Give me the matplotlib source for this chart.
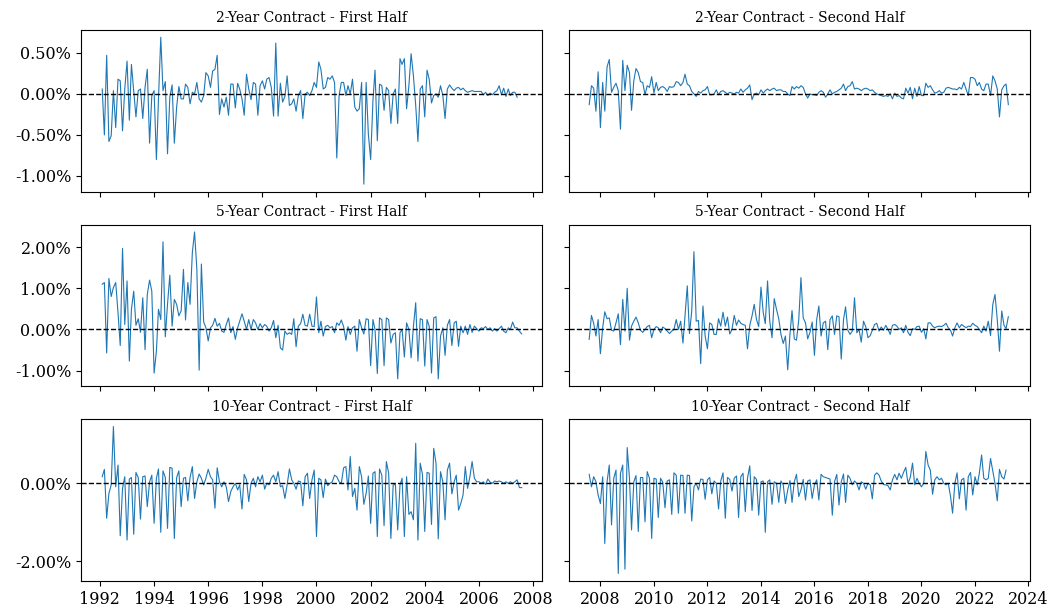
import pandas as pd
import matplotlib.pyplot as plt
import matplotlib.dates as mdates
from matplotlib.ticker import FuncFormatter

plt.rcParams['font.family'] = ['DejaVu Serif']

# monthly deviations, in percent
two_first = [
    0.06, -0.50, 0.47, -0.58, -0.51, 0.04, -0.41, 0.18, 0.16, -0.45, 0.06, 0.40, -0.32, 0.36, 0.04, -0.28,
    0.04, 0.06, -0.30, 0.08, 0.30, -0.60, -0.02, 0.04, -0.80, -0.06, 0.69, 0.04, 0.15, -0.73, -0.04, 0.11,
    -0.60, -0.16, 0.09, -0.06, -0.06, 0.12, 0.08, -0.12, 0.02, 0.00, 0.14, -0.06, -0.10, -0.02, 0.26, 0.22,
    0.08, 0.28, 0.30, 0.47, -0.25, -0.06, -0.16, -0.04, -0.26, 0.12, 0.12, -0.17, 0.13, 0.06, -0.06, -0.26,
    0.24, 0.06, -0.07, 0.14, 0.12, -0.26, 0.10, 0.16, 0.06, 0.18, 0.20, 0.08, -0.27, 0.62, -0.27, 0.13,
    -0.10, -0.03, 0.22, -0.14, -0.12, -0.06, -0.21, -0.02, 0.04, -0.30, 0.00, 0.02, -0.02, 0.04, 0.14,
    0.08, 0.39, 0.30, 0.06, 0.08, 0.20, 0.18, 0.22, 0.14, -0.78, -0.02, 0.14, 0.14, -0.02, 0.10, 0.00,
    0.18, -0.16, -0.21, -0.18, 0.14, -1.10, 0.14, -0.49, -0.80, -0.08, 0.29, -0.57, 0.12, 0.10, -0.20, 0.08,
    0.04, -0.36, 0.00, 0.06, -0.36, 0.43, 0.36, 0.43, -0.18, 0.10, 0.49, 0.22, -0.14, -0.58, 0.06, 0.10,
    -0.28, 0.29, 0.18, -0.11, -0.02, 0.00, -0.04, 0.10, -0.02, -0.30, 0.06, 0.11, 0.07, 0.04, 0.07, 0.08,
    0.05, 0.07, 0.04, 0.02, 0.03, 0.04, 0.03, 0.03, 0.03, 0.03, -0.01, 0.02, -0.02, 0.01, -0.01, 0.02,
    0.04, 0.10, -0.01, 0.07, -0.03, 0.06, -0.02, 0.02, 0.02, -0.04,
]
two_second = [
    -0.13, 0.10, 0.07, -0.21, 0.27, -0.41, 0.14, -0.21, 0.33, 0.42, 0.02, 0.08, 0.13, 0.04, -0.43, 0.41,
    0.04, 0.35, 0.26, -0.20, 0.16, 0.31, 0.26, 0.15, 0.14, -0.01, 0.10, 0.08, 0.21, 0.01, 0.14, 0.04,
    0.08, 0.09, 0.07, 0.03, 0.09, 0.08, 0.09, 0.15, 0.14, 0.10, 0.14, 0.24, 0.12, 0.10, 0.03, 0.00,
    -0.03, 0.03, 0.01, 0.04, 0.05, 0.09, -0.01, -0.01, 0.00, 0.05, -0.01, 0.03, 0.04, 0.02, 0.00, 0.02,
    0.01, 0.00, 0.02, 0.01, 0.06, 0.02, 0.05, 0.07, 0.11, -0.07, 0.00, 0.01, -0.01, 0.05, 0.01, 0.04,
    0.06, 0.04, 0.06, 0.07, 0.04, 0.05, 0.05, 0.03, 0.03, 0.00, -0.02,
    0.09, 0.06, 0.09, 0.07, 0.10, 0.08, 0.00, -0.05, 0.00, -0.01, -0.01, -0.02, 0.02, 0.04, 0.02, -0.04,
    0.00, 0.05, 0.00, 0.02, 0.03, 0.05, 0.07, 0.12, 0.04, 0.09, 0.10, 0.15, 0.06, 0.07, 0.06, 0.04,
    0.06, 0.07, 0.06, 0.04, 0.05, 0.02, 0.00, -0.01, -0.02, -0.03, -0.02, -0.03, 0.00, -0.06, 0.01, -0.03,
    -0.02, -0.05, -0.06, 0.07, 0.01, 0.08, -0.06, 0.07, -0.03, 0.09, -0.02, -0.02, 0.13, 0.08, 0.10, 0.05,
    0.01, 0.02, 0.04, 0.01, 0.02, 0.07, 0.08, 0.07, 0.06, 0.06, 0.05, 0.08, 0.06, 0.14, 0.06, -0.02,
    0.20, 0.20, 0.18, 0.10, 0.14, 0.06, 0.04, 0.12, 0.12, -0.02, 0.22, 0.16, 0.06, -0.28, 0.05, 0.10,
    0.12, -0.13,
]
five_first = [
    1.10, 1.14, -0.57, 1.24, 0.80, 1.02, 1.14, 0.41, -0.39, 1.97, 0.12, 1.18, -0.77, 0.49, 0.93, 0.10,
    0.26, -0.07, 0.77, -0.49, 0.85, 1.20, 0.93, -1.06, -0.53, 0.49, 0.24, 2.13, -0.18, 0.61, 1.32, 0.08,
    0.73, 0.61, 0.33, 0.45, 1.46, 0.23, 1.14, 0.61, 1.87, 2.37, 1.46, -0.99, 1.59, 0.18, 0.04, -0.28,
    0.04, 0.10, 0.27, 0.08, 0.15, -0.04, -0.07, 0.12, 0.28, -0.08, 0.07, -0.24, 0.04, 0.20, 0.38, 0.20,
    0.00, 0.24, 0.00, 0.24, 0.16, 0.00, 0.14, 0.04, 0.12, 0.08, -0.04, 0.04, 0.22, -0.20, 0.10, -0.45,
    -0.50, -0.04, -0.12, -0.08, -0.12, 0.26, -0.42, 0.08, 0.14, 0.37, 0.10, 0.08, 0.37, 0.08, 0.07, 0.79,
    -0.08, 0.20,
    -0.16, 0.07, 0.10, 0.04, 0.07, -0.08, 0.16, 0.10, 0.23, 0.07, -0.26, 0.07, -0.12, 0.04, 0.08, -0.53,
    0.24, 0.04, -0.11, 0.26, 0.24, -0.88, 0.24, 0.00, -1.07, 0.28, 0.24, -0.88, 0.28, 0.24, -0.33, -0.12,
    -0.08, -1.20, -0.08, 0.00, -0.67, 0.16, 0.00, -0.69, 0.07, 0.65, -0.77, 0.26, 0.24, -0.89, 0.24, 0.08,
    -1.06, 0.28, 0.31, -1.20, -0.16, 0.04, -0.63, 0.10, 0.24, -0.39, 0.16, 0.20, -0.41, 0.08, -0.08, 0.08,
    -0.12, 0.12, -0.07, 0.08, 0.02, -0.04, 0.04, 0.02, 0.07, 0.00, 0.04, -0.04, 0.02, -0.04, 0.02, 0.08,
    -0.04, -0.08, 0.04, 0.00, 0.18, 0.04, 0.04, -0.04, -0.11,
]
five_second = [
    -0.24, 0.34, 0.15, -0.16, 0.24, -0.59, 0.04, 0.43, 0.26, 0.28, -0.02, -0.04, 0.16, 0.38, -0.37, 0.73,
    -0.04, 1.00, -0.26, 0.08, 0.20, 0.30, 0.16, -0.02, -0.07, 0.00, 0.07, 0.10, -0.20, 0.00, 0.07, 0.04,
    -0.08, 0.06, 0.02, -0.04, -0.10, -0.04, 0.00, 0.24, 0.00, 0.20, -0.33, 0.33, 1.06, -0.10, 0.45, 1.89,
    0.20, 0.22, -0.83, 0.57, -0.16, -0.47, 0.16, 0.12, -0.12, -0.12, 0.26, 0.08, 0.42, 0.08, 0.30, -0.11,
    0.00, 0.34, 0.10, 0.23, 0.15, 0.12, 0.10, -0.47, 0.10, 0.33, 0.61, 0.24, 0.07, 1.03, 0.41, 0.14,
    1.18, 0.20, -0.20, 0.75, 0.49, 0.26, -0.12, -0.34, -0.16, -0.98,
    -0.12, 0.46, -0.23, -0.26, 0.24, 1.26, 0.28, 0.16, -0.23, -0.07, 0.18, -0.63, 0.24, 0.57, -0.16, 0.16,
    0.20, -0.49, 0.24, 0.33, -0.12, 0.33, 0.31, -0.72, 0.24, 0.55, -0.02, -0.12, -0.04, 0.77, -0.08, 0.00,
    -0.31, 0.20, 0.07, -0.20, -0.15, -0.02, 0.12, 0.15, -0.04, 0.06, -0.02, 0.10, 0.00, -0.12, 0.10, 0.12,
    0.08, 0.00, 0.04, -0.08, 0.10, -0.07, -0.15, 0.02, 0.00, 0.07, 0.08, -0.07, 0.02, -0.23, 0.16, 0.16,
    0.08, 0.04, 0.07, 0.08, 0.07, 0.10, 0.15, 0.04, -0.02, -0.16, 0.04, 0.16, 0.04, 0.12, 0.08, 0.04,
    0.08, 0.07, 0.15, 0.10, 0.07, 0.00, -0.08, 0.08, -0.04, 0.20, -0.15, 0.61, 0.85, 0.24, -0.53, 0.45,
    0.10, 0.02, 0.31,
]
ten_first = [
    0.17, 0.36, -0.90, -0.26, -0.04, 1.46, -0.09, 0.47, -1.35, -0.13, 0.17, -1.46, 0.11, 0.15, -1.31, 0.28,
    0.15, -0.92, 0.17, 0.19, -0.60, 0.04, 0.21, -1.03, 0.13, 0.37, -1.26, 0.32, 0.15, -1.16, 0.41, 0.39,
    -1.42, 0.15, 0.32, -0.60, 0.13, 0.15, -0.45, 0.15, 0.43, -0.39, 0.04, 0.24, 0.13, -0.04, 0.13, 0.36,
    0.17, 0.09, -0.64, 0.40, 0.04, -0.09, 0.04, -0.09, -0.47, -0.21, -0.09, 0.00, -0.17, -0.04, -0.66, 0.23,
    0.09, -0.47, 0.00, 0.13, -0.09, 0.17, 0.04, 0.21, -0.15, 0.00, -0.04, 0.13, 0.21, 0.04, 0.30, -0.09,
    -0.06, -0.39, -0.04, 0.37, 0.09, 0.00, -0.15, 0.06, 0.04, -0.58, 0.17, 0.26, -0.39, 0.09, 0.34, -1.37,
    0.13, 0.09,
    -0.37, 0.11, -0.06, 0.00, 0.04, 0.21, 0.17, 0.04, 0.00, 0.40, 0.43, -0.17, 0.69, -0.34, -0.13, -0.69,
    0.43, 0.17, -0.54, -0.26, 0.19, -1.03, 0.26, 0.30, -1.37, 0.37, 0.21, -1.09, 0.56, 0.26, -1.42, -0.04,
    -0.03, -1.20, -0.04, 0.13, -1.37, 0.17, -0.80, -0.73, -0.94, 1.03, -1.46, 0.52, 0.23, -1.24, 0.28, 0.26,
    -1.06, 0.90, 0.52, -1.43, 0.30, 0.04, -0.94, 0.34, 0.52, -0.27, 0.04, 0.21, -0.69, -0.52, -0.30, 0.43,
    -0.13, 0.17, 0.56, 0.13, 0.04, 0.04, 0.00, 0.04, -0.03, 0.11, 0.03, 0.00, 0.06, 0.04, 0.06, 0.04,
    0.00, 0.04, 0.00, 0.04, 0.00, 0.04, 0.09, -0.11, -0.11,
]
ten_second = [
    0.23, -0.09, 0.17, 0.04, -0.30, -0.52, 0.17, -1.55, 0.04, 0.47, -1.07, 0.13, 0.34, -2.32, 0.26, 0.47,
    -2.21, 0.92, 0.13, -1.20, 0.04, 0.20, -1.24, 0.15, 0.15, -0.99, 0.30, 0.13, -1.42, 0.13, 0.11, -0.88,
    0.13, 0.03, -0.63, 0.06, 0.09, -0.80, 0.27, 0.21, -0.77, 0.21, 0.20, -0.77, 0.21, 0.20, -0.97, -0.09,
    0.00, -0.17, 0.11, 0.10, -0.41, 0.09, 0.15, -0.27, 0.06, 0.00, -0.66, 0.06, 0.27, -0.90, 0.15, 0.10,
    -0.20, 0.13, 0.19, -0.88, 0.17, 0.26, -0.73, 0.13, 0.45, -0.70, 0.17, 0.10, -0.82, 0.04, 0.06, -1.26,
    0.04, 0.09, -0.54, 0.04, 0.00, -0.49, 0.06, -0.04, -0.52, -0.17,
    0.07, -0.49, 0.04, 0.23, -0.34, -0.17, 0.10, -0.43, 0.06, 0.09, -0.39, -0.04, 0.09, -0.43, 0.23, 0.17,
    0.15, 0.13, 0.11, -0.82, 0.04, 0.23, -0.56, 0.04, 0.24, -0.49, 0.21, 0.13, -0.04, 0.06, 0.00, -0.17,
    0.04, 0.00, -0.15, 0.00, -0.04, -0.40, 0.21, 0.27, 0.21, 0.06, -0.03, -0.04, -0.06, -0.17, 0.09, 0.23,
    0.09, 0.26, 0.13, 0.28, 0.41, 0.00, 0.15, 0.52, -0.04, 0.13, 0.00, -0.09, 0.00, 0.82, 0.47, 0.34,
    -0.28, 0.09, 0.17, 0.09, 0.13, 0.00, -0.04, 0.00, -0.34, -0.77, 0.00, 0.27, -0.40, 0.09, 0.13, -0.69,
    0.17, 0.28, -0.30, 0.17, -0.04, 0.26, 0.73, 0.13, 0.09, 0.13, 0.64, 0.32, 0.00, -0.45, 0.36, 0.17,
    0.11, 0.34,
]

contracts = ['2-Year', '5-Year', '10-Year']
halves = ['First Half', 'Second Half']
half_start = ['1992-02-01', '2007-08-01']
series = [[two_first, two_second], [five_first, five_second], [ten_first, ten_second]]
row_ticks = [[-1.0, -0.5, 0.0, 0.5], [-1.0, 0.0, 1.0, 2.0], [-2.0, 0.0]]

fig, axes = plt.subplots(3, 2, figsize=(10.61, 6.12), dpi=100, sharex='col', sharey='row')
fig.subplots_adjust(left=0.0763, right=0.971, top=0.951, bottom=0.051, hspace=0.205, wspace=0.059)

for i, contract in enumerate(contracts):
    for j, half in enumerate(halves):
        ax = axes[i, j]
        vals = series[i][j]
        dates = pd.date_range(half_start[j], periods=len(vals), freq='MS')
        ax.plot(dates, vals, color='#1f77b4', linewidth=0.8)
        ax.axhline(0, color='black', linestyle='--', linewidth=1)
        ax.set_title(f'{contract} Contract - {half}', fontsize=10)
        ax.set_yticks(row_ticks[i])
        ax.yaxis.set_major_formatter(FuncFormatter(lambda v, p: f'{v:.2f}%'))
        ax.tick_params(labelsize=11.5)

for ax in axes[:, 0]:
    ax.set_xlim(pd.Timestamp('1991-04-20'), pd.Timestamp('2008-05-01'))
for ax in axes[:, 1]:
    ax.set_xlim(pd.Timestamp('2006-11-01'), pd.Timestamp('2024-01-25'))
for ax in axes[-1, :]:
    ax.xaxis.set_major_locator(mdates.YearLocator(2))
    ax.xaxis.set_major_formatter(mdates.DateFormatter('%Y'))

plt.savefig('out.png', dpi=100)
